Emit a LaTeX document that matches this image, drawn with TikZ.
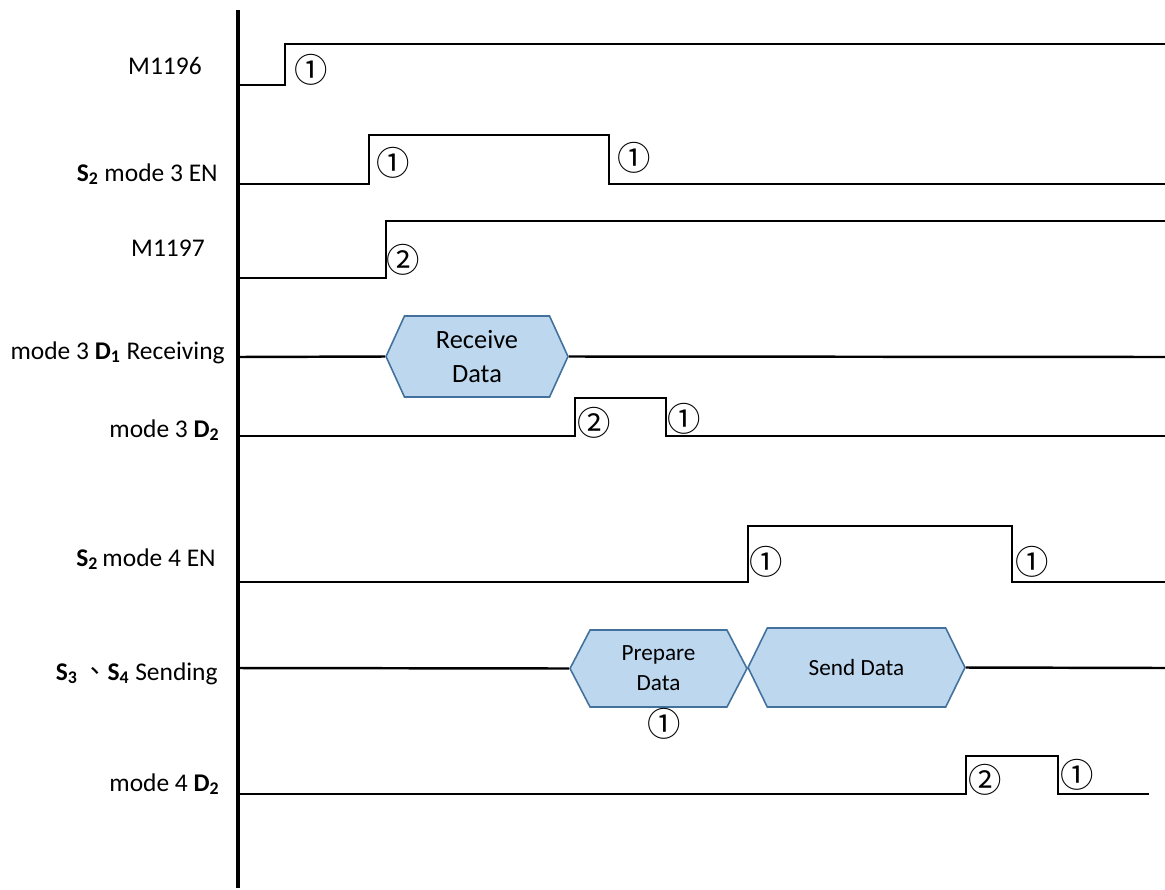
\documentclass[tikz,border=0pt]{standalone}
\usepackage{fontspec}
\setmainfont{Carlito}
\newfontfamily\cjk{Noto Sans CJK TC}
\usetikzlibrary{shapes.symbols}

\definecolor{hexfill}{HTML}{BDD7EE}
\definecolor{hexedge}{HTML}{41719C}

\begin{document}
\begin{tikzpicture}[x=0.02cm, y=-0.02cm,
    wave/.style={line width=1.4pt},
    lbl/.style={anchor=base east, inner sep=0pt, font=\fontsize{14.5}{17}\selectfont},
    num/.style={inner sep=0pt, font=\cjk\fontsize{19}{22}\selectfont},
    hexbox/.style={signal, signal to=west and east, draw=hexedge, fill=hexfill,
        line width=0.9pt, inner sep=0pt, align=center}]
    \useasboundingbox (0,0) rectangle (1165,889);

    % time axis
    \draw[line width=2.3pt] (238,10) -- (238,888);

    % signal names
    \node[lbl] (lM1196) at (202,74) {M1196};
    \node[lbl] (lmodeIII) at (218,181) {\textbf{S\textsubscript{2}} mode 3 EN};
    \node[lbl] (lM1197) at (205,256) {M1197};
    \node[lbl] (lrecv) at (225,359) {mode 3 \textbf{D\textsubscript{1}} Receiving};
    \node[lbl] (ldIII) at (220,437) {mode 3 \textbf{D\textsubscript{2}}};
    \node[lbl] (lmodeIV) at (216,566) {\textbf{S\textsubscript{2}}\,mode 4 EN};
    \node[lbl] (lsend) at (218,680) {\textbf{S\textsubscript{3}}\,{\cjk 、}\textbf{S\textsubscript{4}} Sending};
    \node[lbl] (ldIV) at (220,791) {mode 4 \textbf{D\textsubscript{2}}};

    % M1196
    \draw[wave] (238,85) -- (285,85) -- (285,44) -- (1165,44);
    \node[num] (nA) at (311,70) {①};

    % S2 mode 3 EN
    \draw[wave] (238,184) -- (369,184) -- (369,135) -- (609,135) -- (609,184) -- (1165,184);
    \node[num] (nB) at (393,163) {①};
    \node[num] (nC) at (634,158) {①};

    % M1197
    \draw[wave] (238,278) -- (386,278) -- (386,221) -- (1165,221);
    \node[num] (nD) at (403,260) {②};

    % mode 3 D1 receiving
    \node[hexbox, signal pointer angle=131, minimum width=3.64cm, minimum height=1.62cm,
        font=\fontsize{15}{19}\selectfont] (rcv) at (477,356.5) {Receive\\Data};
    \draw[wave] (238,357) -- (rcv.west);
    \draw[wave] (rcv.east) -- (1165,357);

    % mode 3 D2
    \draw[wave] (238,436) -- (575,436) -- (575,398) -- (666,398) -- (666,436) -- (1165,436);
    \node[num] (nE) at (594,423) {②};
    \node[num] (nF) at (684,419) {①};

    % S2 mode 4 EN
    \draw[wave] (238,582) -- (748,582) -- (748,526) -- (1012,526) -- (1012,582) -- (1165,582);
    \node[num] (nG) at (766,562) {①};
    \node[num] (nH) at (1032,562) {①};

    % S3, S4 sending
    \node[hexbox, signal pointer angle=125, minimum width=3.54cm, minimum height=1.54cm,
        font=\fontsize{13.2}{17}\selectfont] (prep) at (658.5,668.5) {Prepare\\Data};
    \node[hexbox, signal pointer angle=128, minimum width=4.34cm, minimum height=1.58cm,
        font=\fontsize{13.2}{17}\selectfont] (send) at (856.5,667.5) {Send Data};
    \draw[wave] (238,668) -- (prep.west);
    \draw[wave] (send.east) -- (1165,668);
    \node[num] (nI) at (664,724) {①};

    % mode 4 D2
    \draw[wave] (238,794) -- (966,794) -- (966,756) -- (1058,756) -- (1058,794) -- (1149,794);
    \node[num] (nJ) at (985,780) {②};
    \node[num] (nK) at (1077,775) {①};
\end{tikzpicture}
\end{document}
